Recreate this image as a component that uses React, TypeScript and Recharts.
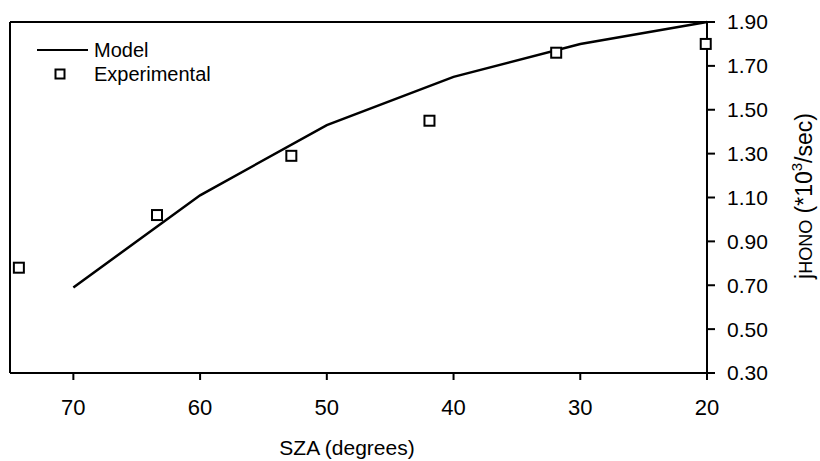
import React from 'react';
import { ComposedChart, Line, Scatter, XAxis, YAxis, ReferenceLine, Legend } from 'recharts';

const modelSza = [70, 60, 50, 40, 30, 20];
const modelJ = [0.69, 1.11, 1.43, 1.65, 1.8, 1.9];
const expSza = [74.3, 63.4, 52.8, 41.9, 31.9, 20.1];
const expJ = [0.78, 1.02, 1.29, 1.45, 1.76, 1.8];
const xTicks = [70, 60, 50, 40, 30, 20];
const yTicks = [0.3, 0.5, 0.7, 0.9, 1.1, 1.3, 1.5, 1.7, 1.9];

const modelData = modelSza.map((x, i) => ({ x, y: modelJ[i] }));
const expData = expSza.map((x, i) => ({ x, y: expJ[i] }));

const FONT = '"Liberation Sans", Arial, Helvetica, sans-serif';

const SquareShape = (props: any) => {
  const { cx, cy } = props;
  if (cx == null || cy == null) return null;
  return <rect x={cx - 5} y={cy - 5} width={10} height={10} fill="#fff" stroke="#000" strokeWidth={2} />;
};

const LegendContent = () => (
  <div style={{ fontFamily: FONT, fontSize: 20, color: '#000', lineHeight: '24px' }}>
    <div style={{ display: 'flex', alignItems: 'center', height: 24 }}>
      <svg width={57} height={24}>
        <line x1={0} y1={12} x2={51} y2={12} stroke="#000" strokeWidth={2} />
      </svg>
      <span>Model</span>
    </div>
    <div style={{ display: 'flex', alignItems: 'center', height: 24 }}>
      <svg width={57} height={24}>
        <rect x={18.5} y={7.5} width={9} height={9} fill="#fff" stroke="#000" strokeWidth={2} />
      </svg>
      <span>Experimental</span>
    </div>
  </div>
);

const YLabel = () => (
  <text
    x={0}
    y={0}
    transform="translate(812, 196) rotate(-90)"
    textAnchor="middle"
    fontFamily={FONT}
    fontSize={23}
    fill="#000"
  >
    <tspan>j</tspan>
    <tspan fontSize={18}>HONO</tspan>
    <tspan> (*10</tspan>
    <tspan fontSize={15} dy={-10}>3</tspan>
    <tspan dy={10}>/sec)</tspan>
  </text>
);

const XLabel = () => (
  <text x={347} y={455} textAnchor="middle" fontFamily={FONT} fontSize={21} fill="#000">
    SZA (degrees)
  </text>
);

export default function App() {
  return (
    <div style={{ position: 'absolute', left: 0, top: 0, background: '#fff' }}>
      <ComposedChart
        width={820}
        height={461}
        margin={{ top: 22, left: 10, right: 0, bottom: 0 }}
        style={{ fontFamily: FONT }}
      >
        <XAxis
          type="number"
          dataKey="x"
          domain={[20, 75]}
          reversed
          ticks={xTicks}
          height={88}
          stroke="#000"
          strokeWidth={2}
          tickSize={7}
          tickMargin={19}
          tick={{ fill: '#000', fontSize: 22, fontFamily: FONT }}
          label={{ content: () => <XLabel /> }}
        />
        <YAxis
          type="number"
          dataKey="y"
          orientation="right"
          domain={[0.3, 1.9]}
          ticks={yTicks}
          width={113}
          stroke="#000"
          strokeWidth={2}
          tickSize={8}
          tickMargin={12}
          tickFormatter={(v: number) => v.toFixed(2)}
          tick={{ fill: '#000', fontSize: 21, fontFamily: FONT }}
          label={{ content: () => <YLabel /> }}
        />
        <ReferenceLine y={1.9} stroke="#000" strokeWidth={2} />
        <ReferenceLine x={75} stroke="#000" strokeWidth={2} />
        <Line
          data={modelData}
          dataKey="y"
          type="linear"
          stroke="#000"
          strokeWidth={2.5}
          dot={false}
          isAnimationActive={false}
          name="Model"
        />
        <Scatter
          data={expData}
          dataKey="y"
          shape={<SquareShape />}
          isAnimationActive={false}
          name="Experimental"
        />
        <Legend
          layout="vertical"
          align="center"
          verticalAlign="middle"
          content={() => <LegendContent />}
          wrapperStyle={{ position: 'absolute', left: 37, top: 38, width: 'auto', height: 'auto' }}
        />
      </ComposedChart>
    </div>
  );
}
